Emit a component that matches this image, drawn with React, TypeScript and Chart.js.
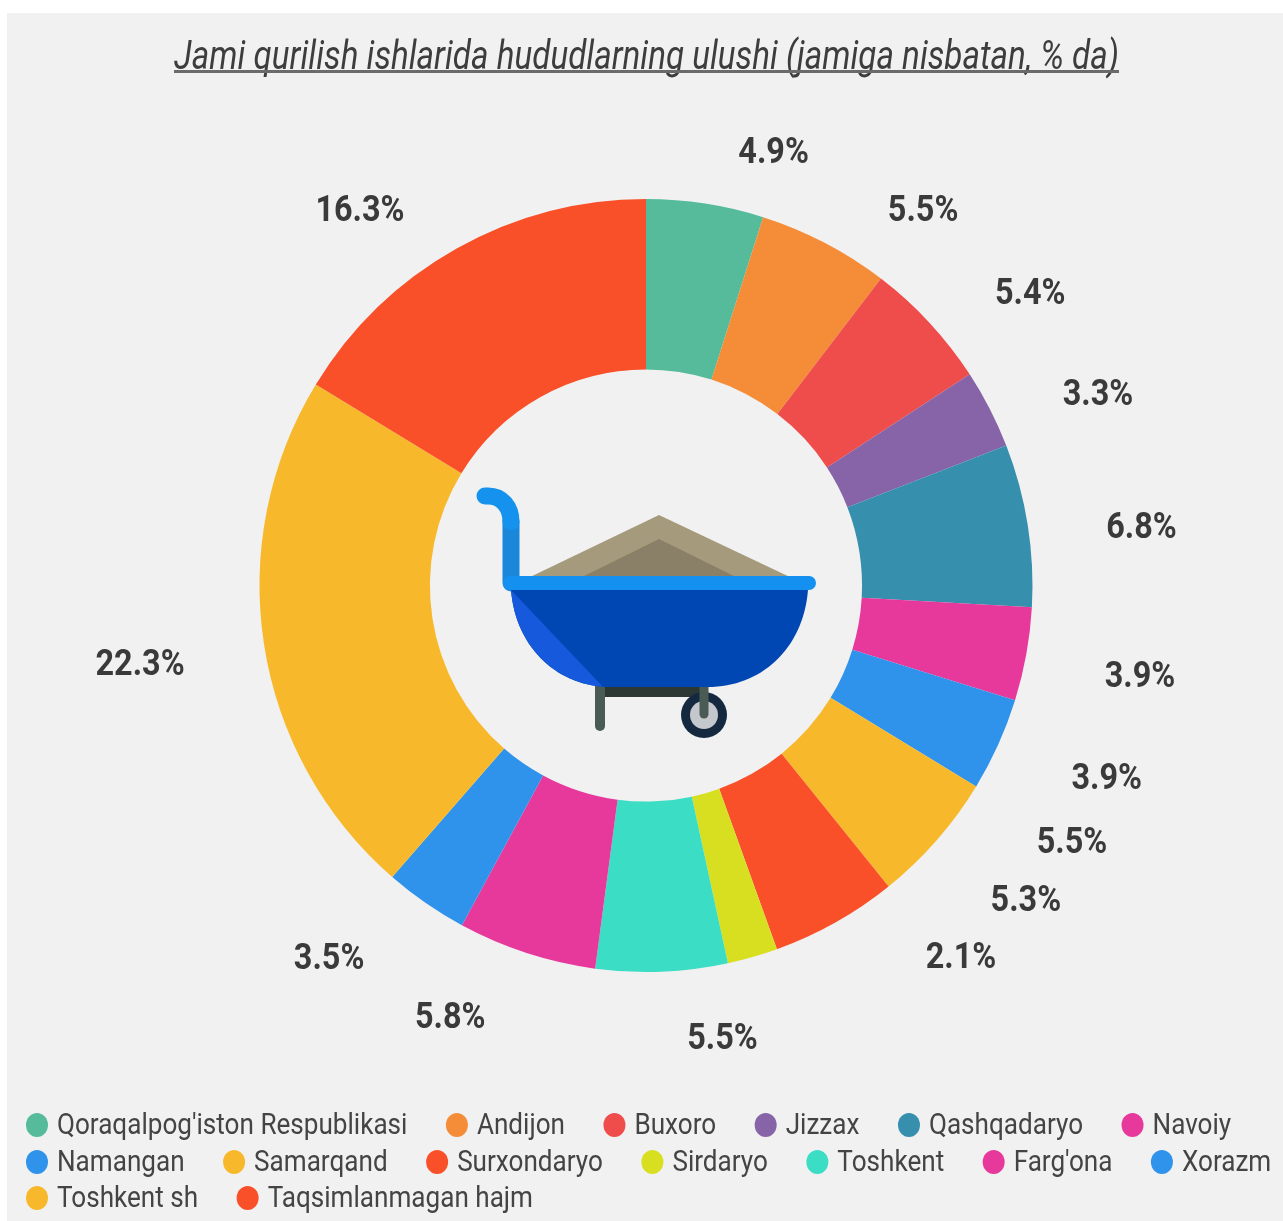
import React, { useEffect, useRef } from "react";
import { Chart, registerables } from "chart.js";

Chart.register(...registerables);

const chartTitle = "Jami qurilish ishlarida hududlarning ulushi (jamiga nisbatan, % da)";
const regions = ["Qoraqalpog'iston Respublikasi", "Andijon", "Buxoro", "Jizzax", "Qashqadaryo", "Navoiy", "Namangan", "Samarqand", "Surxondaryo", "Sirdaryo", "Toshkent", "Farg'ona", "Xorazm", "Toshkent sh", "Taqsimlanmagan hajm"];
const shares = [4.9, 5.5, 5.4, 3.3, 6.8, 3.9, 3.9, 5.5, 5.3, 2.1, 5.5, 5.8, 3.5, 22.3, 16.3];
const sliceColors = ["#55bb9a", "#f58d38", "#ef4d4b", "#8763a8", "#378fae", "#e6399b", "#2f92eb", "#f7b92b", "#f9502a", "#d7df20", "#3bddc4", "#e6399b", "#2f92eb", "#f7b92b", "#f9502a"];

// Label placement around the ring (degrees clockwise from the top, and distance in outer radii)
const labelAngles = [16.4, 36.4, 52.7, 67, 83.2, 100.3, 112.6, 121, 129.6, 139.7, 170.4, 204.4, 220.4, 261.2, 322.7];
const labelRadii = [452, 467, 483, 491, 499, 502, 499, 497, 493, 487, 459, 474, 489, 512, 472].map((r) => r / 386.5);
const legendRowStarts = [6, 13];

const INK = "#444444";

function squeezedText(ctx: CanvasRenderingContext2D, text: string, x: number, y: number, sx: number) {
  ctx.save();
  ctx.translate(x, y);
  ctx.scale(sx, 1);
  ctx.fillText(text, 0, 0);
  ctx.restore();
}

function drawTitle(ctx: CanvasRenderingContext2D) {
  ctx.save();
  ctx.font = "italic 400 40px Roboto";
  ctx.fillStyle = "#3d3d3d";
  ctx.textAlign = "left";
  ctx.textBaseline = "alphabetic";
  const w = ctx.measureText(chartTitle).width;
  squeezedText(ctx, chartTitle, 174, 69, 945 / w);
  ctx.fillStyle = "#6b6b6b";
  ctx.fillRect(174, 70, 945, 3);
  ctx.restore();
}

function drawLegend(ctx: CanvasRenderingContext2D, labels: string[], colors: string[]) {
  const sx = 0.9;
  const rows = [1125, 1162, 1198];
  ctx.save();
  ctx.font = "400 29px Roboto";
  ctx.textAlign = "left";
  ctx.textBaseline = "middle";
  let cx = 37;
  let row = 0;
  labels.forEach((label, i) => {
    const w = ctx.measureText(label).width * sx;
    if (legendRowStarts.includes(i)) {
      cx = 37;
      row += 1;
    }
    ctx.fillStyle = colors[i];
    ctx.beginPath();
    ctx.ellipse(cx, rows[row], 11, 12, 0, 0, Math.PI * 2);
    ctx.fill();
    ctx.fillStyle = INK;
    squeezedText(ctx, label, cx + 20, rows[row] + 2, sx);
    cx += 20 + w + 49.5;
  });
  ctx.restore();
}

function drawBarrow(ctx: CanvasRenderingContext2D, cx: number, cy: number) {
  ctx.save();
  ctx.translate(cx - 646, cy - 585.5);
  // load
  ctx.fillStyle = "#a59b7c";
  ctx.beginPath();
  ctx.moveTo(528, 578);
  ctx.lineTo(659, 515);
  ctx.lineTo(792, 578);
  ctx.closePath();
  ctx.fill();
  ctx.fillStyle = "#8a8068";
  ctx.beginPath();
  ctx.moveTo(580, 578);
  ctx.lineTo(659, 539);
  ctx.lineTo(738, 578);
  ctx.closePath();
  ctx.fill();
  // handle
  ctx.lineCap = "round";
  ctx.lineWidth = 17;
  ctx.strokeStyle = "#1a87db";
  ctx.beginPath();
  ctx.moveTo(511, 583);
  ctx.lineTo(511, 522);
  ctx.stroke();
  ctx.strokeStyle = "#1492ee";
  ctx.beginPath();
  ctx.moveTo(485, 496);
  ctx.lineTo(488, 496);
  ctx.bezierCurveTo(502, 496, 511, 507, 511, 522);
  ctx.stroke();
  // legs and bar
  ctx.fillStyle = "#2c3833";
  ctx.fillRect(600, 687, 102, 10);
  ctx.lineWidth = 10;
  ctx.strokeStyle = "#4a5b55";
  ctx.beginPath();
  ctx.moveTo(600, 685);
  ctx.lineTo(600, 726);
  ctx.stroke();
  // wheel
  ctx.fillStyle = "#14293f";
  ctx.beginPath();
  ctx.arc(704, 715, 23, 0, Math.PI * 2);
  ctx.fill();
  ctx.fillStyle = "#c4c8cc";
  ctx.beginPath();
  ctx.arc(704, 715, 14, 0, Math.PI * 2);
  ctx.fill();
  ctx.lineWidth = 9;
  ctx.beginPath();
  ctx.moveTo(704, 685);
  ctx.lineTo(704, 714);
  ctx.stroke();
  // bowl
  const bowl = () => {
    ctx.beginPath();
    ctx.moveTo(511, 590);
    ctx.bezierCurveTo(516, 650, 560, 687, 610, 687);
    ctx.lineTo(708, 687);
    ctx.bezierCurveTo(760, 687, 803, 650, 808, 590);
    ctx.closePath();
  };
  ctx.fillStyle = "#0047b3";
  bowl();
  ctx.fill();
  ctx.save();
  bowl();
  ctx.clip();
  ctx.fillStyle = "#1659dc";
  ctx.beginPath();
  ctx.moveTo(511, 590);
  ctx.lineTo(606, 690);
  ctx.lineTo(500, 690);
  ctx.closePath();
  ctx.fill();
  ctx.restore();
  // rim
  ctx.lineWidth = 14;
  ctx.strokeStyle = "#1490f0";
  ctx.beginPath();
  ctx.moveTo(510, 583);
  ctx.lineTo(809, 583);
  ctx.stroke();
  ctx.restore();
}

const decorations = {
  id: "decorations",
  afterDraw(chart: any) {
    const ctx = chart.ctx as CanvasRenderingContext2D;
    const arcs = chart.getDatasetMeta(0).data;
    const { x: cx, y: cy, outerRadius } = arcs[0];
    drawTitle(ctx);
    ctx.save();
    ctx.font = "700 37px Roboto";
    ctx.fillStyle = "#3a3a3a";
    ctx.textBaseline = "middle";
    ctx.textAlign = "left";
    shares.forEach((v, i) => {
      const text = `${v.toFixed(1)}%`;
      const a = (labelAngles[i] * Math.PI) / 180;
      const r = labelRadii[i] * outerRadius;
      const sx = 0.876;
      const w = ctx.measureText(text).width * sx;
      squeezedText(ctx, text, cx + Math.sin(a) * r - w / 2, cy - Math.cos(a) * r + 2, sx);
    });
    ctx.restore();
    drawLegend(ctx, regions, sliceColors);
    drawBarrow(ctx, cx, cy);
  },
};

export default function App() {
  const ref = useRef<HTMLCanvasElement>(null);
  useEffect(() => {
    if (!ref.current) return;
    const chart = new Chart(ref.current, {
      type: "doughnut",
      data: {
        labels: regions,
        datasets: [{ data: shares, backgroundColor: sliceColors, borderWidth: 0 }],
      },
      options: {
        animation: false,
        responsive: false,
        cutout: "55.9%",
        layout: { padding: { left: 259.5, right: 250.5, top: 199, bottom: 249 } },
        plugins: { legend: { display: false }, title: { display: false }, tooltip: { enabled: false } },
      },
      plugins: [decorations],
    } as any);
    return () => chart.destroy();
  }, []);
  return (
    <div style={{ position: "fixed", left: 0, top: 0, width: 1283, height: 1221, background: "#ffffff", overflow: "hidden" }}>
      <div style={{ position: "absolute", left: 7, top: 13, width: 1276, height: 1208, background: "#f1f1f1" }} />
      <canvas ref={ref} width={1283} height={1221} style={{ position: "absolute", left: 0, top: 0, width: 1283, height: 1221 }} />
    </div>
  );
}
